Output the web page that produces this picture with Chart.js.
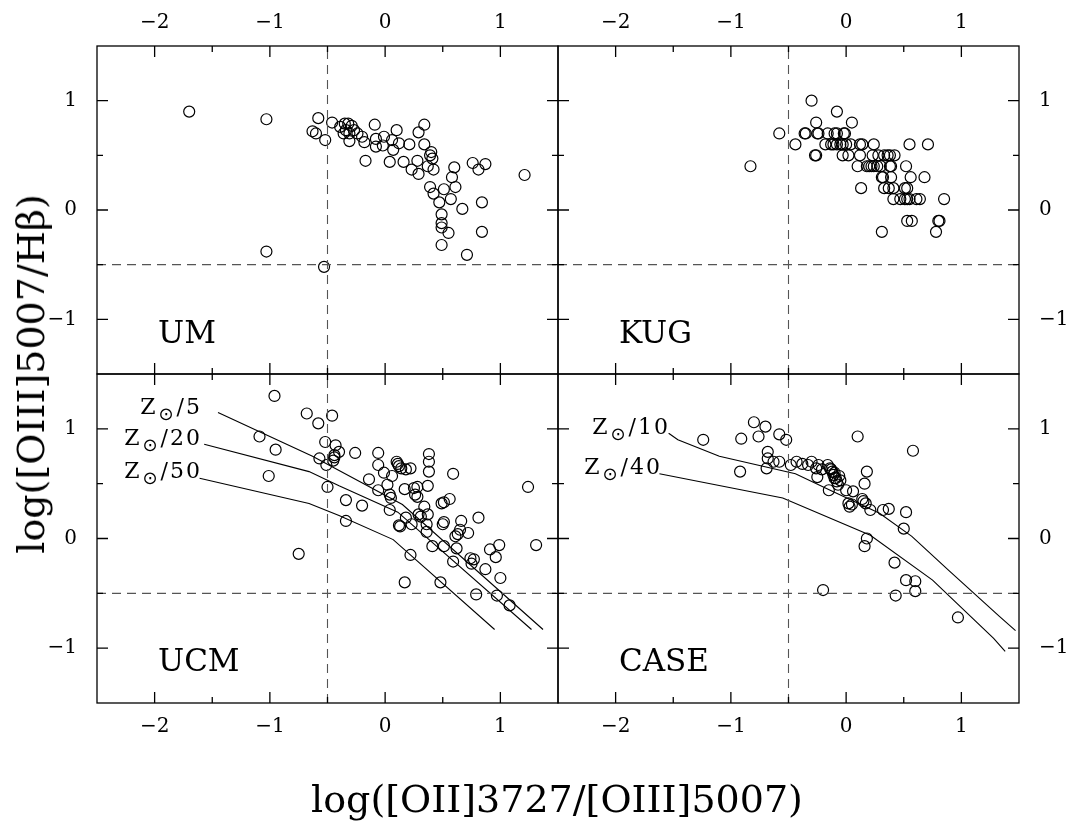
<!DOCTYPE html>
<html>
<head>
<meta charset="utf-8">
<script src="https://cdn.jsdelivr.net/npm/chart.js@4.4.0/dist/chart.umd.min.js"></script>
<style>
body { margin: 0; background: #fff; }
#wrap { position: relative; width: 1071px; height: 823px; overflow: hidden; font-family: "DejaVu Serif", serif; color: #000; }
canvas { position: absolute; left: 0; top: 0; }
.lbl { position: absolute; line-height: 1; white-space: nowrap; }
.sun { font-family: "DejaVu Sans", sans-serif; font-size: 18px; line-height: 0; position: relative; top: 6px; margin: 0 1px; }
.z { font-size: 22px; letter-spacing: 2px; }
</style>
</head>
<body>
<div id="wrap">
 <canvas id="umChart" width="1071" height="823"></canvas>
 <canvas id="kugChart" width="1071" height="823"></canvas>
 <canvas id="ucmChart" width="1071" height="823"></canvas>
 <canvas id="caseChart" width="1071" height="823"></canvas>

 <div class="lbl" style="left:158px;top:317px;font-size:31px;">UM</div>
 <div class="lbl" style="left:619px;top:317px;font-size:31px;">KUG</div>
 <div class="lbl" style="left:158px;top:645px;font-size:31px;">UCM</div>
 <div class="lbl" style="left:619px;top:645px;font-size:31px;">CASE</div>

 <div class="lbl z" style="right:869px;top:396px;">Z<span class="sun">⊙</span>/5</div>
 <div class="lbl z" style="right:869px;top:427px;">Z<span class="sun">⊙</span>/20</div>
 <div class="lbl z" style="right:869px;top:460px;">Z<span class="sun">⊙</span>/50</div>
 <div class="lbl z" style="right:401px;top:416px;">Z<span class="sun">⊙</span>/10</div>
 <div class="lbl z" style="right:409px;top:456px;">Z<span class="sun">⊙</span>/40</div>

 <div class="lbl" style="left:557px;top:780px;font-size:38px;transform:translateX(-50%);">log([OII]3727/[OIII]5007)</div>
 <div class="lbl" style="left:31px;top:374px;font-size:38px;transform:translate(-50%,-50%) rotate(-90deg);">log([OIII]5007/Hβ)</div>
</div>

<script>
// axis ranges and ticks (same for all four panels)
const xRange = [-2.5, 1.5];
const yRange = [-1.5, 1.5];
const xTicks = [-2, -1, 0, 1];
const yTicks = [-1, 0, 1];
const xTickMarks = [-2, -1.5, -1, -0.5, 0, 0.5, 1];
const yTickMarks = [-1, -0.5, 0, 0.5, 1];
const cutX = -0.5;
const cutY = -0.5;

// UM galaxies
const umPts = [
 [-1.70,0.90],[-1.03,0.83],[-1.03,-0.38],[-0.53,-0.52],[-0.58,0.84],[-0.63,0.72],[-0.60,0.70],[-0.52,0.64],[-0.46,0.80],
 [-0.39,0.76],[-0.35,0.79],[-0.32,0.79],[-0.29,0.77],[-0.34,0.73],[-0.31,0.70],[-0.27,0.73],[-0.24,0.70],[-0.20,0.67],
 [-0.31,0.63],[-0.18,0.62],[-0.36,0.70],[-0.09,0.78],[-0.17,0.45],[-0.08,0.65],[-0.08,0.58],[-0.02,0.59],[-0.01,0.67],
 [0.06,0.64],[0.07,0.55],[0.04,0.44],[0.10,0.73],[0.12,0.61],[0.16,0.44],[0.21,0.60],[0.29,0.71],[0.34,0.78],[0.34,0.60],
 [0.28,0.45],[0.29,0.33],[0.23,0.37],[0.37,0.40],[0.40,0.53],[0.39,0.50],[0.41,0.47],[0.42,0.37],[0.39,0.21],[0.42,0.15],
 [0.51,0.19],[0.47,0.07],[0.57,0.10],[0.61,0.21],[0.58,0.30],[0.60,0.39],[0.49,-0.04],[0.49,-0.12],[0.49,-0.16],
 [0.55,-0.21],[0.49,-0.32],[0.67,0.01],[0.71,-0.41],[0.76,0.43],[0.81,0.37],[0.87,0.42],[0.84,0.07],[0.84,-0.20],[1.21,0.32]
];

// KUG galaxies
const kugPts = [
 [-0.83,0.4],[-0.58,0.7],[-0.44,0.6],[-0.30,1.0],[-0.08,0.9],[-0.26,0.8],[0.05,0.8],
 [-0.36,0.7],[-0.35,0.7],[-0.25,0.7],[-0.24,0.7],[-0.16,0.7],[-0.10,0.7],[-0.08,0.7],[-0.02,0.7],[-0.01,0.7],
 [-0.18,0.6],[-0.13,0.6],[-0.11,0.6],[-0.08,0.6],[-0.05,0.6],[-0.03,0.6],[0.00,0.6],[0.04,0.6],[0.12,0.6],[0.14,0.6],
 [0.24,0.6],[0.55,0.6],[0.71,0.6],
 [-0.27,0.5],[-0.26,0.5],[-0.03,0.5],[0.02,0.5],[0.12,0.5],[0.23,0.5],[0.28,0.5],[0.33,0.5],[0.36,0.5],[0.38,0.5],[0.42,0.5],
 [0.10,0.4],[0.18,0.4],[0.20,0.4],[0.22,0.4],[0.24,0.4],[0.27,0.4],[0.30,0.4],[0.38,0.4],[0.39,0.4],[0.52,0.4],
 [0.31,0.3],[0.32,0.3],[0.39,0.3],[0.56,0.3],[0.68,0.3],
 [0.13,0.2],[0.33,0.2],[0.37,0.2],[0.41,0.2],[0.51,0.2],[0.53,0.2],
 [0.41,0.1],[0.47,0.1],[0.51,0.1],[0.53,0.1],[0.55,0.1],[0.61,0.1],[0.64,0.1],[0.85,0.1],
 [0.53,-0.1],[0.57,-0.1],[0.80,-0.1],[0.81,-0.1],
 [0.31,-0.2],[0.78,-0.2]
];

// UCM galaxies
const ucmPts = [
 [-0.96,1.30],[-0.68,1.14],[-0.58,1.05],[-0.46,1.12],[-1.09,0.93],[-0.95,0.81],[-1.01,0.57],[-0.75,-0.14],[-0.52,0.88],
 [-0.43,0.85],[-0.40,0.79],[-0.44,0.76],[-0.44,0.74],[-0.45,0.71],[-0.57,0.73],[-0.51,0.67],[-0.50,0.47],[-0.34,0.35],
 [-0.34,0.16],[-0.26,0.78],[-0.20,0.30],[-0.14,0.54],[-0.06,0.78],[-0.06,0.67],[-0.06,0.44],[-0.01,0.60],[0.02,0.49],
 [0.04,0.40],[0.05,0.37],[0.04,0.26],[0.06,0.57],[0.10,0.70],[0.11,0.68],[0.12,0.66],[0.14,0.64],[0.18,0.63],[0.22,0.64],
 [0.17,0.45],[0.25,0.46],[0.28,0.47],[0.26,0.40],[0.28,0.38],[0.12,0.12],[0.13,0.11],[0.18,0.19],[0.23,0.13],[0.29,0.22],
 [0.31,0.20],[0.34,0.29],[0.36,0.13],[0.37,0.22],[0.38,0.77],[0.38,0.70],[0.38,0.61],[0.37,0.48],[0.36,0.06],
 [0.41,-0.07],[0.51,-0.07],[0.50,0.13],[0.51,0.15],[0.49,0.32],[0.51,0.33],[0.56,0.36],[0.59,0.59],[0.59,-0.21],
 [0.62,-0.09],[0.61,0.02],[0.63,0.04],[0.66,0.16],[0.65,0.08],[0.72,0.05],[0.74,-0.18],[0.77,-0.19],[0.75,-0.23],
 [0.81,0.19],[0.87,-0.28],[0.91,-0.10],[0.96,-0.17],[0.99,-0.06],[1.00,-0.36],[0.79,-0.51],[0.97,-0.52],[1.08,-0.61],
 [0.22,-0.15],[0.48,-0.40],[0.17,-0.40],[1.24,0.47],[1.31,-0.06]
];

// CASE galaxies
const casePts = [
 [-1.24,0.90],[-0.91,0.91],[-0.80,1.06],[-0.70,1.02],[-0.76,0.93],[-0.58,0.95],[-0.52,0.90],[-0.68,0.79],[-0.68,0.73],
 [-0.69,0.64],[-0.92,0.61],[-0.63,0.70],[-0.58,0.70],[-0.48,0.67],[-0.43,0.70],[-0.38,0.68],[-0.33,0.67],[-0.30,0.70],
 [-0.26,0.64],[-0.24,0.67],[-0.21,0.63],[-0.16,0.67],[-0.14,0.64],[-0.12,0.61],[-0.11,0.58],[-0.09,0.55],[-0.08,0.52],
 [-0.25,0.56],[-0.15,0.44],[-0.20,-0.47],[0.10,0.93],[0.58,0.80],[0.18,0.61],[0.16,0.50],
 [-0.13,0.63],[-0.10,0.60],[-0.06,0.57],[-0.05,0.53],[-0.10,0.55],[-0.07,0.49],
 [0.00,0.44],[0.06,0.43],[0.02,0.32],[0.03,0.29],[0.05,0.31],[0.14,0.36],[0.15,0.34],[0.17,0.32],[0.21,0.26],[0.32,0.26],
 [0.37,0.27],[0.52,0.24],[0.50,0.09],[0.18,0.00],[0.16,-0.07],[0.42,-0.22],[0.52,-0.38],[0.60,-0.39],[0.60,-0.48],
 [0.43,-0.52],[0.97,-0.72]
];

// model tracks
const ucmZ5 = [[-1.45,1.15],[-0.63,0.75],[0.15,0.31],[1.37,-0.83]];
const ucmZ20 = [[-1.57,0.86],[-0.66,0.61],[-0.40,0.48],[0.11,0.24],[1.27,-0.83]];
const ucmZ50 = [[-1.61,0.55],[-0.66,0.32],[-0.40,0.21],[0.07,-0.01],[0.95,-0.83]];
const caseZ10 = [[-1.54,0.96],[-1.46,0.90],[-1.10,0.75],[-0.44,0.59],[-0.12,0.43],[0.29,0.23],[0.57,0.02],[0.89,-0.29],[1.33,-0.71],[1.47,-0.84]];
const caseZ40 = [[-1.62,0.59],[-0.55,0.37],[0.21,0.03],[0.75,-0.38],[1.28,-0.91],[1.38,-1.03]];

const font = { family: 'DejaVu Serif', size: 20 };

// frame box and inward tick marks on all four sides
const frameTicks = {
 id: 'frameTicks',
 afterDatasetsDraw(chart) {
  const ctx = chart.ctx;
  const a = chart.chartArea;
  const xs = chart.scales.x, ys = chart.scales.y;
  ctx.save();
  ctx.strokeStyle = '#000';
  ctx.lineWidth = 1.3;
  ctx.strokeRect(a.left, a.top, a.right - a.left, a.bottom - a.top);
  ctx.beginPath();
  xTickMarks.forEach(v => {
   const len = Number.isInteger(v) ? 11 : 6;
   const p = xs.getPixelForValue(v);
   ctx.moveTo(p, a.top); ctx.lineTo(p, a.top + len);
   ctx.moveTo(p, a.bottom); ctx.lineTo(p, a.bottom - len);
  });
  yTickMarks.forEach(v => {
   const len = Number.isInteger(v) ? 11 : 6;
   const p = ys.getPixelForValue(v);
   ctx.moveTo(a.left, p); ctx.lineTo(a.left + len, p);
   ctx.moveTo(a.right, p); ctx.lineTo(a.right - len, p);
  });
  ctx.stroke();
  ctx.restore();
 }
};

// fixed sizes of the axis boxes, so every panel lands on the same grid
const axisSize = { top: 46, bottom: 60, left: 90, right: 52 };

function axis(pos, range, vals, pad) {
 return {
  type: 'linear',
  position: pos,
  min: range[0],
  max: range[1],
  afterBuildTicks: s => { s.ticks = vals.map(v => ({ value: v })); },
  afterFit: s => { if (s.isHorizontal()) s.height = axisSize[pos]; else s.width = axisSize[pos]; },
  grid: { display: false, drawTicks: false },
  border: { display: false },
  ticks: {
   padding: pad,
   color: '#000',
   font: font,
   callback: v => String(v).replace('-', '\u2212')
  }
 };
}

function toXY(pts) {
 return pts.map(p => ({ x: p[0], y: p[1] }));
}

function lineSet(pts, color, dash) {
 return {
  data: toXY(pts),
  showLine: true,
  borderColor: color,
  borderWidth: 1.1,
  borderDash: dash,
  pointRadius: 0,
  fill: false
 };
}

function renderPanel(id, pts, tracks, box, xPos, yPos) {
 const ctx = document.getElementById(id).getContext('2d');
 const datasets = [
  lineSet([[cutX, yRange[0]], [cutX, yRange[1]]], '#555', [9, 6]),
  lineSet([[xRange[0], cutY], [xRange[1], cutY]], '#555', [9, 6])
 ];
 tracks.forEach(t => datasets.push(lineSet(t, '#000', [])));
 datasets.push({
  data: toXY(pts),
  showLine: false,
  pointStyle: 'circle',
  pointRadius: 5.5,
  pointBorderWidth: 1.2,
  pointBorderColor: '#000',
  pointBackgroundColor: 'rgba(0,0,0,0)'
 });

 const pad = {
  left: box[0] - (yPos === 'left' ? axisSize.left : 0),
  right: 1071 - box[2] - (yPos === 'right' ? axisSize.right : 0),
  top: box[1] - (xPos === 'top' ? axisSize.top : 0),
  bottom: 823 - box[3] - (xPos === 'bottom' ? axisSize.bottom : 0)
 };

 new Chart(ctx, {
  type: 'scatter',
  data: { datasets: datasets },
  options: {
   responsive: false,
   animation: false,
   devicePixelRatio: 1,
   events: [],
   layout: { padding: pad },
   plugins: { legend: { display: false }, tooltip: { enabled: false } },
   scales: {
    x: axis(xPos, xRange, xTicks, xPos === 'top' ? 11 : 12),
    y: axis(yPos, yRange, yTicks, 20)
   }
  },
  plugins: [frameTicks]
 });
}

// panel boxes: left, top, right, bottom
renderPanel('umChart', umPts, [], [97, 46, 558, 374], 'top', 'left');
renderPanel('kugChart', kugPts, [], [558, 46, 1019, 374], 'top', 'right');
renderPanel('ucmChart', ucmPts, [ucmZ5, ucmZ20, ucmZ50], [97, 374, 558, 703], 'bottom', 'left');
renderPanel('caseChart', casePts, [caseZ10, caseZ40], [558, 374, 1019, 703], 'bottom', 'right');
</script>
</body>
</html>
